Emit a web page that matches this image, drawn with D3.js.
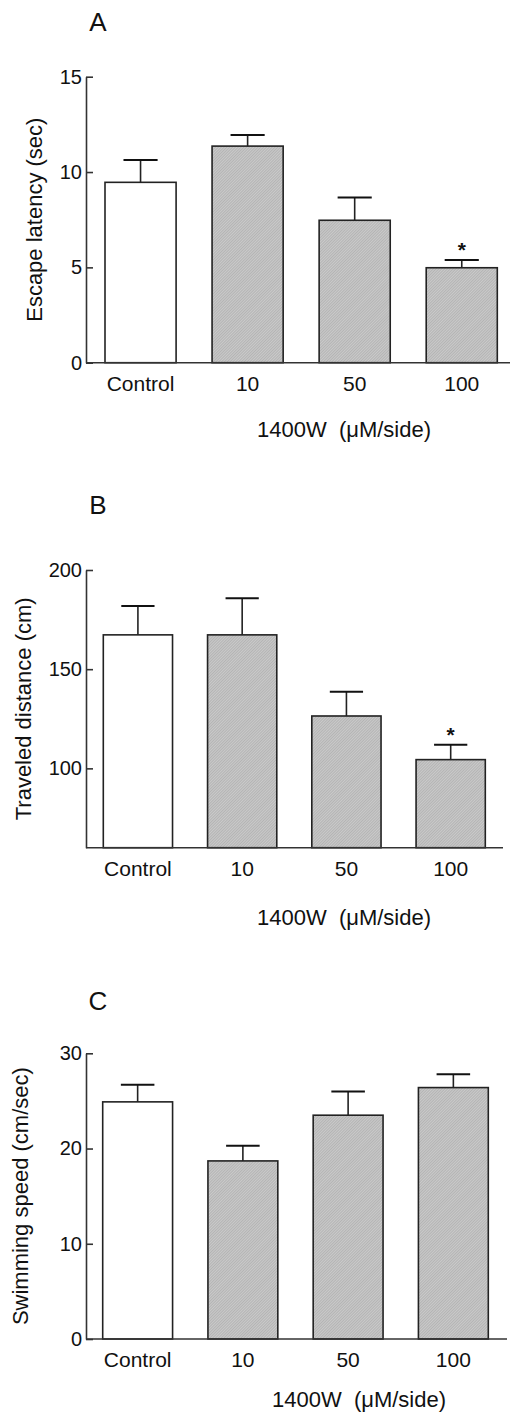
<!DOCTYPE html>
<html>
<head>
<meta charset="utf-8">
<script src="https://cdn.jsdelivr.net/npm/d3@7"></script>
<style>
  body { margin: 0; background: #fff; }
  svg { display: block; font-family: "Liberation Sans", Arial, sans-serif; }
</style>
</head>
<body>
<svg id="svg" width="511" height="1419"></svg>
<script>
// data
var categories = ["Control", "10", "50", "100"];

var latency    = [9.46, 11.36, 7.47, 4.98];
var latencyErr = [1.17, 0.58, 1.20, 0.41];
var latencySig = [false, false, false, true];

var distance    = [167.3, 167.3, 126.4, 104.4];
var distanceErr = [14.6, 18.5, 12.2, 7.5];
var distanceSig = [false, false, false, true];

var speed    = [24.9, 18.7, 23.5, 26.4];
var speedErr = [1.8, 1.6, 2.5, 1.4];
var speedSig = [false, false, false, false];

var latencyTicks  = [0, 5, 10, 15];
var distanceTicks = [100, 150, 200];
var speedTicks    = [0, 10, 20, 30];

var xTitle = "1400W  (\u03BCM/side)";

var svg = d3.select("#svg");

// fine grey texture used for the treated groups
var defs = svg.append("defs");
var pat = defs.append("pattern")
  .attr("id", "hatch")
  .attr("patternUnits", "userSpaceOnUse")
  .attr("width", 2).attr("height", 2)
  .attr("patternTransform", "rotate(45)");
pat.append("rect").attr("width", 2).attr("height", 2).attr("fill", "#cacaca");
pat.append("rect").attr("width", 1).attr("height", 2).attr("fill", "#b4b4b4");

var panels = [
  { letter: "A", label: "Escape latency (sec)", values: latency, errs: latencyErr, sig: latencySig,
    domain: [0, 15], ticks: latencyTicks, top: 76.7, bottom: 362.7, band: [105, 497.3], axisEnd: 510,
    letterY: 31, labelX: 34, titleX: 257, titleY: 437 },
  { letter: "B", label: "Traveled distance (cm)", values: distance, errs: distanceErr, sig: distanceSig,
    domain: [60, 200], ticks: distanceTicks, top: 570, bottom: 847.7, band: [103.3, 485.3], axisEnd: 503,
    letterY: 514, labelX: 23, titleX: 257, titleY: 925 },
  { letter: "C", label: "Swimming speed (cm/sec)", values: speed, errs: speedErr, sig: speedSig,
    domain: [0, 30], ticks: speedTicks, top: 1053.3, bottom: 1339, band: [102.7, 488.3], axisEnd: 507,
    letterY: 1010, labelX: 20.5, titleX: 272, titleY: 1407 }
];

var axisX = 86;

panels.forEach(function(p) {
  var g = svg.append("g");

  var x = d3.scaleBand().domain(categories).range(p.band).paddingInner(0.336).paddingOuter(0);
  var y = d3.scaleLinear().domain(p.domain).range([p.bottom, p.top]);

  // bars
  g.selectAll("rect.bar")
    .data(p.values)
    .enter().append("rect")
      .attr("class", "bar")
      .attr("x", function(d, i) { return x(categories[i]); })
      .attr("y", function(d) { return y(d); })
      .attr("width", x.bandwidth())
      .attr("height", function(d) { return p.bottom - y(d); })
      .attr("fill", function(d, i) { return i === 0 ? "#fff" : "url(#hatch)"; })
      .attr("stroke", "#222")
      .attr("stroke-width", 1.6);

  // error bars (upper only)
  var capW = x.bandwidth() * 0.48;
  p.values.forEach(function(d, i) {
    var cx = x(categories[i]) + x.bandwidth() / 2;
    g.append("line")
      .attr("x1", cx).attr("x2", cx)
      .attr("y1", y(d)).attr("y2", y(d + p.errs[i]))
      .attr("stroke", "#222").attr("stroke-width", 1.6);
    g.append("line")
      .attr("x1", cx - capW / 2).attr("x2", cx + capW / 2)
      .attr("y1", y(d + p.errs[i])).attr("y2", y(d + p.errs[i]))
      .attr("stroke", "#111").attr("stroke-width", 2);
    if (p.sig[i]) {
      g.append("text")
        .attr("x", cx).attr("y", y(d + p.errs[i]) - 3)
        .attr("text-anchor", "middle")
        .attr("font-size", 21)
        .attr("font-weight", "bold")
        .attr("fill", "#111")
        .text("*");
    }
  });

  // y axis, ticks pointing inward
  var yAxis = d3.axisLeft(y).tickValues(p.ticks).tickSizeInner(-7).tickSizeOuter(0).tickPadding(4);
  var ya = g.append("g").attr("transform", "translate(" + axisX + ",0)").call(yAxis);
  ya.select(".domain").attr("stroke", "#333").attr("stroke-width", 1.6);
  ya.selectAll(".tick line").attr("stroke", "#333").attr("stroke-width", 1.6);
  ya.selectAll(".tick text").attr("font-size", 20).attr("fill", "#111")
    .attr("font-family", "Liberation Sans, Arial, sans-serif");

  // x axis
  g.append("line")
    .attr("x1", axisX).attr("x2", p.axisEnd)
    .attr("y1", p.bottom).attr("y2", p.bottom)
    .attr("stroke", "#333").attr("stroke-width", 1.6);

  g.selectAll("text.cat")
    .data(categories)
    .enter().append("text")
      .attr("class", "cat")
      .attr("x", function(d) { return x(d) + x.bandwidth() / 2; })
      .attr("y", p.bottom + 28)
      .attr("text-anchor", "middle")
      .attr("font-size", 21)
      .attr("fill", "#111")
      .text(function(d) { return d; });

  // axis titles
  g.append("text")
    .attr("transform", "translate(" + p.labelX + "," + ((p.top + p.bottom) / 2) + ") rotate(-90)")
    .attr("text-anchor", "middle")
    .attr("dy", "0.35em")
    .attr("font-size", 22)
    .attr("fill", "#111")
    .text(p.label);

  g.append("text")
    .attr("x", p.titleX).attr("y", p.titleY)
    .attr("font-size", 22)
    .attr("fill", "#111")
    .attr("xml:space", "preserve")
    .style("white-space", "pre")
    .text(xTitle);

  g.append("text")
    .attr("x", 98).attr("y", p.letterY)
    .attr("text-anchor", "middle")
    .attr("font-size", 26)
    .attr("fill", "#111")
    .text(p.letter);
});
</script>
</body>
</html>
